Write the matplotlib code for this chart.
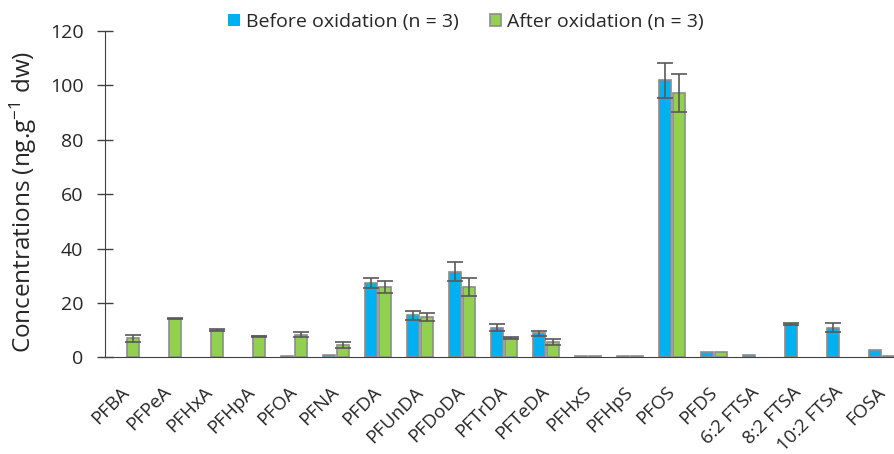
import numpy as np
import matplotlib
matplotlib.use("Agg")
import matplotlib.pyplot as plt
import matplotlib.transforms as mtransforms

compounds = ["PFBA", "PFPeA", "PFHxA", "PFHpA", "PFOA", "PFNA", "PFDA", "PFUnDA",
             "PFDoDA", "PFTrDA", "PFTeDA", "PFHxS", "PFHpS", "PFOS", "PFDS",
             "6:2 FTSA", "8:2 FTSA", "10:2 FTSA", "FOSA"]

before_mean = [0, 0, 0, 0, 0.6, 0.7, 27.3, 15.4, 31.5, 10.9, 8.8, 0.3, 0.3,
               101.9, 1.8, 1.0, 12.2, 10.9, 2.8]
before_err = [0, 0, 0, 0, 0, 0, 1.9, 1.5, 3.6, 1.3, 1.0, 0, 0,
              6.5, 0, 0, 0.5, 1.7, 0]
after_mean = [7.0, 14.2, 9.9, 7.7, 8.3, 4.4, 25.9, 14.9, 25.9, 7.1, 5.7, 0.3, 0.3,
              97.2, 1.8, 0, 0, 0, 0.3]
after_err = [1.3, 0.2, 0.4, 0.1, 1.0, 1.1, 2.2, 1.5, 3.3, 0.4, 1.1, 0, 0,
             7.0, 0, 0, 0, 0, 0]

blue = "#00B0F0"
green = "#92D050"
edge = "#8C8C8C"
errc = "#595959"
txt = "#262626"

plt.rcParams["font.family"] = ["Open Sans", "DejaVu Sans"]
plt.rcParams["mathtext.default"] = "regular"

fig = plt.figure(figsize=(8.95, 4.54), dpi=100)
ax = fig.add_axes([105 / 895, (454 - 357.3) / 454, (895 - 105) / 895, (357.3 - 31) / 454])

x = np.arange(len(compounds))
w = 0.285
off = 0.16


def draw(xpos, mean, err, color, label):
    mean = np.array(mean, dtype=float)
    err = np.array(err, dtype=float)
    lw = np.where(mean > 0, 1.2, 0.0)
    bars = ax.bar(xpos, mean, w, color=color, edgecolor=edge, linewidth=lw, label=label)
    m = err > 0
    ax.errorbar(xpos[m], mean[m], yerr=err[m], fmt="none", ecolor=errc,
                elinewidth=1.2, capsize=6, capthick=1.2)
    return bars


b1 = draw(x - off, before_mean, before_err, blue, "Before oxidation (n = 3)")
b2 = draw(x + off, after_mean, after_err, green, "After oxidation (n = 3)")

ax.set_xlim(-0.5, -0.5 + (895 - 105) / 42.0)
ax.set_ylim(0, 120)
ax.set_yticks(np.arange(0, 121, 20))
ax.set_xticks(x)
ax.set_xticklabels(compounds, rotation=45, ha="right", va="center", rotation_mode="anchor")
shift = mtransforms.ScaledTranslation(5 / 100, 0, fig.dpi_scale_trans)
for lab in ax.get_xticklabels():
    lab.set_transform(lab.get_transform() + shift)

for s in ["top", "right"]:
    ax.spines[s].set_visible(False)
ax.spines["left"].set_color("#404040")
ax.spines["bottom"].set_color("#404040")
ax.tick_params(axis="y", direction="inout", length=11, width=1, color="#404040",
               labelsize=14, labelcolor=txt, pad=10)
ax.tick_params(axis="x", length=0, labelsize=13.5, labelcolor=txt, pad=23)

ax.set_ylabel("Concentrations (ng.g$^{-1}$ dw)", fontsize=17.5, color=txt)
ax.yaxis.set_label_coords((39 - 105) / 790, 0.476)

leg = fig.legend(handles=[b1, b2], loc="center", bbox_to_anchor=(466 / 895, 1 - 22 / 454),
                 ncol=2, frameon=False, fontsize=14, handlelength=0.6, handleheight=0.6,
                 handletextpad=0.3, columnspacing=1.6)
for t in leg.get_texts():
    t.set_color(txt)

fig.savefig("out.png", dpi=100)
